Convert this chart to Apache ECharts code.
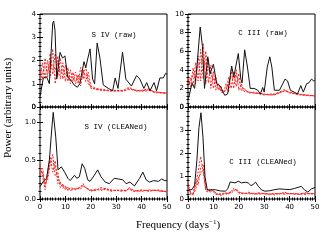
<!DOCTYPE html>
<html><head><meta charset="utf-8">
<script src="https://cdn.jsdelivr.net/npm/echarts@6/dist/echarts.min.js"></script>
<style>html,body{margin:0;padding:0;background:#fff}#c{width:334px;height:246px}</style>
</head><body><div id="c"></div>
<script>
// ---- Data (frequency in days^-1, power in arbitrary units) ----
const xTicks = [0, 10, 20, 30, 40, 50];

// S IV (raw)
const sivRawBlack = [[0,0.45],[1.3,1.25],[2.6,1.3],[3.7,1.0],[5,3.6],[5.4,3.7],[5.9,3.3],[6.6,1.2],[7.9,2.35],[8.9,2.1],[9.8,2.2],[10.9,1.3],[12.5,1.1],[13.4,0.95],[14.7,0.85],[15.7,1.0],[17.3,1.95],[18,1.7],[19.7,2.5],[20.7,1.2],[21.5,1.0],[22.5,2.75],[23.6,2.1],[24.9,0.95],[26.9,0.8],[28.6,0.7],[29.6,1.25],[30.7,0.8],[32.5,2.35],[33.8,1.2],[36,0.9],[38,1.35],[39.3,1.2],[40.9,0.8],[42,1.05],[43.3,0.7],[44.9,1.05],[45.9,0.7],[47.2,1.25],[48.5,1.25],[49.5,1.45],[50,1.4]];
const sivRawRed1 = [[0,1.3],[1,1.9],[2,1.2],[3,2.0],[4,1.3],[5,2.5],[6,1.0],[7,2.2],[8,1.2],[9,1.9],[10,1.1],[11,1.7],[12,1.0],[13,1.5],[14,1.0],[15,1.4],[16,0.9],[17,1.6],[18,1.1],[19,1.5],[20,0.9],[22,0.8],[25,0.75],[28,0.7],[30,0.72],[33,0.68],[35,0.8],[38,0.7],[40,0.72],[43,0.78],[45,0.65],[48,0.62],[50,0.6]];
const sivRawRed2 = [[0,1.6],[1,1.2],[2,2.1],[3,1.3],[4,2.3],[5,1.4],[6,2.3],[7,1.3],[8,2.1],[9,1.2],[10,1.8],[11,1.1],[12,1.6],[13,1.1],[14,1.5],[15,1.0],[16,1.7],[17,1.2],[18,1.8],[19,1.0],[20,0.85],[22,0.75],[25,0.72],[28,0.68],[30,0.7],[33,0.72],[35,0.85],[38,0.68],[40,0.7],[43,0.74],[45,0.62],[48,0.6],[50,0.58]];
const sivRawRed3 = [[0,1.1],[1,1.5],[2,1.7],[3,1.5],[4,1.9],[5,1.8],[6,1.6],[7,1.9],[8,1.5],[9,1.6],[10,1.4],[11,1.3],[12,1.3],[13,1.2],[14,1.2],[15,1.3],[16,1.3],[17,1.5],[18,1.4],[19,1.2],[20,0.8],[22,0.78],[25,0.7],[28,0.72],[30,0.68],[33,0.7],[35,0.75],[38,0.72],[40,0.68],[43,0.7],[45,0.66],[48,0.62],[50,0.6]];

// C III (raw)
const ciiiRawBlack = [[0.2,0.93],[1.6,2.55],[2.6,2.0],[3.5,4.3],[4.8,8.6],[5.7,6.5],[6.5,2.0],[7.8,5.4],[8.7,3.6],[10,4.6],[11.3,2.5],[12.6,2.3],[13.5,1.75],[14.5,1.25],[15.6,1.4],[17.2,4.4],[18,3.2],[18.7,3.0],[19.8,5.75],[20.8,3.0],[21.3,2.6],[22.3,6.15],[23.4,4.3],[24.5,2.0],[26,2.0],[27.5,1.8],[28.5,1.4],[29.4,2.1],[30,1.6],[31.2,4.3],[32.2,5.4],[33,4.3],[34,1.8],[36,1.8],[37.3,2.5],[38.2,3.0],[39.2,2.8],[40.3,1.8],[41.8,1.6],[43.1,1.4],[44.4,2.3],[45.4,1.6],[46.7,2.5],[47.6,2.6],[48.6,3.0],[49.5,2.8],[50,2.9]];
const ciiiRawRed1 = [[0,3.0],[1,2.2],[2,4.2],[3,2.5],[4,5.5],[5,2.8],[6,6.8],[7,2.5],[8,5.2],[9,2.0],[10,3.8],[11,1.8],[12,2.5],[13,1.6],[14,1.5],[15,2.5],[16,1.6],[17,4.0],[18,2.0],[19,4.0],[20,1.8],[21,2.5],[22,1.7],[24,1.6],[26,1.5],[28,1.5],[30,1.4],[32,1.3],[34,1.3],[36,1.5],[38,1.8],[40,1.6],[42,1.5],[44,1.4],[46,1.3],[48,1.25],[50,1.2]];
const ciiiRawRed2 = [[0,2.2],[1,3.2],[2,2.3],[3,4.8],[4,2.8],[5,6.2],[6,3.0],[7,6.0],[8,2.6],[9,4.5],[10,2.0],[11,3.2],[12,1.8],[13,2.2],[14,1.6],[15,1.8],[16,3.2],[17,2.0],[18,3.8],[19,2.2],[20,3.6],[21,1.7],[22,2.0],[24,1.5],[26,1.6],[28,1.4],[30,1.3],[32,1.4],[34,1.4],[36,1.6],[38,1.9],[40,1.5],[42,1.4],[44,1.3],[46,1.25],[48,1.2],[50,1.2]];
const ciiiRawRed3 = [[0,2.6],[1,2.7],[2,3.5],[3,3.8],[4,4.5],[5,4.8],[6,5.0],[7,4.6],[8,4.2],[9,3.5],[10,3.0],[11,2.6],[12,2.0],[13,1.8],[14,1.6],[15,1.9],[16,2.6],[17,3.2],[18,3.0],[19,3.4],[20,2.8],[21,2.2],[22,1.9],[24,1.6],[26,1.5],[28,1.45],[30,1.35],[32,1.3],[34,1.35],[36,1.55],[38,1.7],[40,1.55],[42,1.45],[44,1.35],[46,1.3],[48,1.25],[50,1.2]];

// S IV (CLEANed)
const sivCleanBlack = [[0,0.16],[1.3,0.23],[2.6,0.27],[3.7,0.51],[4.6,0.9],[5.2,1.13],[6.2,0.81],[7.1,0.38],[8.4,0.42],[9.7,0.35],[11,0.27],[11.9,0.24],[13.6,0.31],[14.5,0.27],[15.5,0.29],[16.6,0.46],[17.6,0.4],[18.8,0.25],[19.7,0.23],[21.4,0.31],[22.7,0.38],[24,0.29],[25.7,0.22],[27.3,0.2],[29.2,0.27],[31,0.26],[32.6,0.25],[33.9,0.2],[35.4,0.22],[37.2,0.17],[39.2,0.27],[40.5,0.35],[41.8,0.25],[43.1,0.22],[44.8,0.24],[46.6,0.23],[47.9,0.26],[49.2,0.24],[50,0.24]];
const sivCleanRed1 = [[0,0.45],[1,0.3],[2,0.12],[3,0.35],[4,0.55],[5,0.35],[6,0.5],[7,0.2],[8,0.22],[9,0.14],[10,0.17],[11,0.11],[12,0.15],[14,0.12],[16,0.16],[17,0.2],[18,0.14],[20,0.12],[22,0.11],[24,0.15],[26,0.13],[28,0.12],[30,0.11],[32,0.12],[34,0.1],[35,0.15],[37,0.11],[40,0.1],[43,0.12],[46,0.11],[48,0.1],[50,0.1]];
const sivCleanRed2 = [[0,0.3],[1,0.4],[2,0.2],[3,0.25],[4,0.45],[5,0.58],[6,0.3],[7,0.35],[8,0.15],[9,0.2],[10,0.12],[11,0.16],[12,0.11],[14,0.14],[16,0.13],[17,0.17],[18,0.15],[20,0.1],[22,0.13],[24,0.11],[26,0.14],[28,0.1],[30,0.12],[32,0.1],[34,0.12],[35,0.13],[37,0.1],[40,0.12],[43,0.1],[46,0.12],[48,0.11],[50,0.09]];
const sivCleanRed3 = [[0,0.38],[1,0.35],[2,0.18],[3,0.3],[4,0.5],[5,0.48],[6,0.42],[7,0.28],[8,0.2],[9,0.17],[10,0.15],[11,0.13],[12,0.13],[14,0.13],[16,0.15],[17,0.18],[18,0.15],[20,0.11],[22,0.12],[24,0.13],[26,0.12],[28,0.11],[30,0.11],[32,0.11],[34,0.11],[35,0.14],[37,0.1],[40,0.11],[43,0.11],[46,0.11],[48,0.1],[50,0.1]];

// C III (CLEANed)
const ciiiCleanBlack = [[0.2,0.39],[1.6,0.41],[2.6,0.6],[3.5,1.67],[4.3,3.1],[5.1,3.75],[5.9,2.67],[6.7,0.96],[7.6,0.39],[8.9,0.4],[10.8,0.4],[12.8,0.35],[14.7,0.34],[15.7,0.45],[16.6,0.74],[18.5,0.7],[19.8,0.77],[21.1,0.7],[22.7,0.73],[23.7,0.7],[24.8,0.58],[25.7,0.64],[26.6,0.73],[27.7,0.55],[29,0.39],[30.3,0.34],[32.2,0.36],[34.2,0.41],[36.1,0.44],[38.1,0.42],[40.1,0.41],[42,0.46],[44.6,0.55],[45.9,0.39],[47.2,0.3],[48.6,0.44],[50,0.5]];
const ciiiCleanRed1 = [[0,0.7],[1,0.2],[2,0.25],[3,0.6],[4,1.2],[5,1.85],[6,1.2],[7,0.35],[8,0.3],[9,0.45],[10,0.3],[11,0.2],[12,0.18],[13,0.25],[14,0.2],[15,0.28],[16,0.22],[17,0.35],[18,0.45],[19,0.38],[20,0.25],[22,0.22],[24,0.3],[26,0.2],[28,0.28],[30,0.22],[32,0.2],[34,0.25],[36,0.22],[38,0.3],[40,0.22],[42,0.25],[44,0.2],[46,0.28],[48,0.22],[50,0.25]];
const ciiiCleanRed2 = [[0,0.5],[1,0.3],[2,0.15],[3,0.8],[4,0.6],[5,1.4],[6,1.5],[7,0.5],[8,0.35],[9,0.3],[10,0.4],[11,0.25],[12,0.2],[13,0.15],[14,0.25],[15,0.2],[16,0.3],[17,0.25],[18,0.35],[19,0.45],[20,0.3],[22,0.25],[24,0.22],[26,0.25],[28,0.2],[30,0.25],[32,0.22],[34,0.18],[36,0.25],[38,0.2],[40,0.25],[42,0.2],[44,0.22],[46,0.2],[48,0.25],[50,0.2]];
const ciiiCleanRed3 = [[0,0.6],[1,0.25],[2,0.2],[3,0.4],[4,0.9],[5,1.1],[6,1.3],[7,0.45],[8,0.4],[9,0.35],[10,0.35],[11,0.22],[12,0.22],[13,0.2],[14,0.22],[15,0.24],[16,0.25],[17,0.3],[18,0.4],[19,0.4],[20,0.28],[22,0.24],[24,0.26],[26,0.22],[28,0.24],[30,0.23],[32,0.21],[34,0.22],[36,0.23],[38,0.25],[40,0.23],[42,0.22],[44,0.21],[46,0.24],[48,0.23],[50,0.22]];

const panelTitles = ['S IV (raw)', 'C III (raw)', 'S IV (CLEANed)', 'C III (CLEANed)'];
const yRanges = [[0,4,1],[0,10,2],[0,1.2,0.5],[0,4,1]];

// ---- Layout ----
const grids = [
  {left:40, top:14, width:127, height:93},
  {left:188, top:14, width:127, height:93},
  {left:40, top:107, width:127, height:92},
  {left:188, top:107, width:127, height:92}
].map(g => Object.assign(g, {show:true, borderColor:'#000', borderWidth:1, backgroundColor:'transparent'}));
const panels = [
  {black: sivRawBlack, reds:[sivRawRed1, sivRawRed2, sivRawRed3]},
  {black: ciiiRawBlack, reds:[ciiiRawRed1, ciiiRawRed2, ciiiRawRed3]},
  {black: sivCleanBlack, reds:[sivCleanRed1, sivCleanRed2, sivCleanRed3]},
  {black: ciiiCleanBlack, reds:[ciiiCleanRed1, ciiiCleanRed2, ciiiCleanRed3]}
];
const FONT = 'DejaVu Sans';
const xAxis = [], yAxis = [], series = [];
grids.forEach((g, i) => {
  const bottomRow = i >= 2;
  ['bottom','top'].forEach(pos => {
    xAxis.push({
      type:'value', gridIndex:i, position:pos, min:0, max:50, interval:10,
      axisLine:{show:false},
      axisTick:{show:true, inside:true, length:3, lineStyle:{color:'#000'}},
      minorTick:{show:true, splitNumber:10, length:1.5, lineStyle:{color:'#000'}},
      axisLabel:{show: pos==='bottom' && bottomRow, fontSize:7, fontFamily:FONT, color:'#000', margin:5},
      splitLine:{show:false}
    });
  });
  const r = yRanges[i];
  ['left','right'].forEach(pos => {
    yAxis.push({
      type:'value', gridIndex:i, position:pos, min:r[0], max:r[1], interval:r[2],
      axisLine:{show:false},
      axisTick:{show:true, inside:true, length:3, lineStyle:{color:'#000'}},
      minorTick:{show:true, splitNumber:5, length:1.5, lineStyle:{color:'#000'}},
      axisLabel:{show: pos==='left', fontSize:7, fontFamily:FONT, color:'#000', margin:4,
        showMinLabel:true, showMaxLabel: i < 2,
        formatter: i===2 ? (v => v.toFixed(1)) : (v => String(v))},
      splitLine:{show:false}
    });
  });
  const p = panels[i];
  p.reds.forEach(rd => series.push({
    type:'line', xAxisIndex:i*2, yAxisIndex:i*2, data:rd, showSymbol:false,
    lineStyle:{color:'#ff2020', width:1, type:[2,1.5]}, z:2, animation:false
  }));
  series.push({
    type:'line', xAxisIndex:i*2, yAxisIndex:i*2, data:p.black, showSymbol:false,
    lineStyle:{color:'#111', width:1}, z:3, animation:false
  });
});

const titlePos = [[114,35],[263,33],[116,127],[263,162]];
const graphic = panelTitles.map((t, i) => ({
  type:'text', x:titlePos[i][0], y:titlePos[i][1],
  style:{text:t, font:'7.5px "Liberation Mono"', fill:'#000', align:'center', verticalAlign:'middle'}
}));
// zero labels of the upper panels (hidden by the axis at the shared edge)
[[36,107],[184,107]].forEach(p => graphic.push({
  type:'text', x:p[0], y:p[1], z:10,
  style:{text:'0', font:'7px "DejaVu Sans"', fill:'#000', align:'right', verticalAlign:'middle'}
}));
graphic.push({
  type:'text', x:8, y:108, rotation:Math.PI/2,
  style:{text:'Power (arbitrary units)', font:'11px "Liberation Serif"', fill:'#000', align:'center', verticalAlign:'middle'}
});
graphic.push({
  type:'text', x:178, y:225,
  style:{
    text:'{a|Frequency (days}{s|−1}{a|)}',
    rich:{a:{fontSize:11, fontFamily:'Liberation Serif', color:'#000'}, s:{fontSize:7, fontFamily:'Liberation Serif', color:'#000', padding:[0,0,6,0]}},
    align:'center', verticalAlign:'middle'
  }
});

const chart = echarts.init(document.getElementById('c'), null, {renderer:'canvas'});
chart.setOption({animation:false, grid:grids, xAxis, yAxis, series, graphic});
</script></body></html>
